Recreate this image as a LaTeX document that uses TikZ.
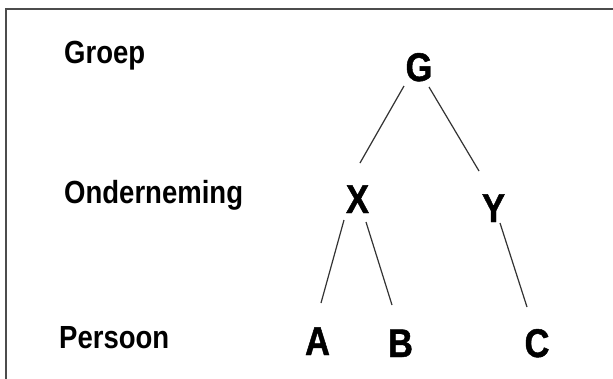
\documentclass[tikz,border=0pt]{standalone}
\usepackage{fontspec}
\setmainfont{Liberation Sans}
\newfontfamily\labelfont{Liberation Sans}[FakeStretch=0.86]
\newfontfamily\letterfont{Liberation Sans}[FakeStretch=0.86,FakeBold=1.2]
\begin{document}
\begin{tikzpicture}[x=1pt,y=-1pt,
  lbl/.style={inner sep=0pt, anchor=base west, font=\labelfont\bfseries\fontsize{32}{36}\selectfont},
  ltr/.style={inner sep=0pt, anchor=base, font=\letterfont\bfseries\fontsize{40}{44}\selectfont},
  edge/.style={draw=black!80, line width=1.2pt},
  frame/.style={draw=black!70, line width=2.5pt}]
\useasboundingbox (0,0) rectangle (613,378);
\fill[white] (0,0) rectangle (613,378);
\draw[frame] (6,390) -- (6,9) -- (625,9);
% level labels
\node[lbl] (groep) at (64,63) {Groep};
\node[lbl] (ond) at (64,203) {Onderneming};
\node[lbl] (pers) at (59,348) {Persoon};
% tree nodes
\node[ltr] (G) at (419,81) {G};
\node[ltr] (X) at (357.5,213) {X};
\node[ltr] (Y) at (493.5,222) {Y};
\node[ltr] (A) at (317.5,355) {A};
\node[ltr] (B) at (400.5,357) {B};
\node[ltr] (C) at (537,357) {C};
% connector end points
\coordinate (G-l) at (404,86);
\coordinate (G-r) at (429,87);
\coordinate (X-t) at (360,163);
\coordinate (Y-t) at (479,171);
\coordinate (X-l) at (344,220);
\coordinate (X-r) at (366,222);
\coordinate (A-t) at (321,303);
\coordinate (B-t) at (392,305);
\coordinate (Y-b) at (500,223);
\coordinate (C-t) at (527,307);
\draw[edge] (G-l) -- (X-t);
\draw[edge] (G-r) -- (Y-t);
\draw[edge] (X-l) -- (A-t);
\draw[edge] (X-r) -- (B-t);
\draw[edge] (Y-b) -- (C-t);
\end{tikzpicture}
\end{document}
